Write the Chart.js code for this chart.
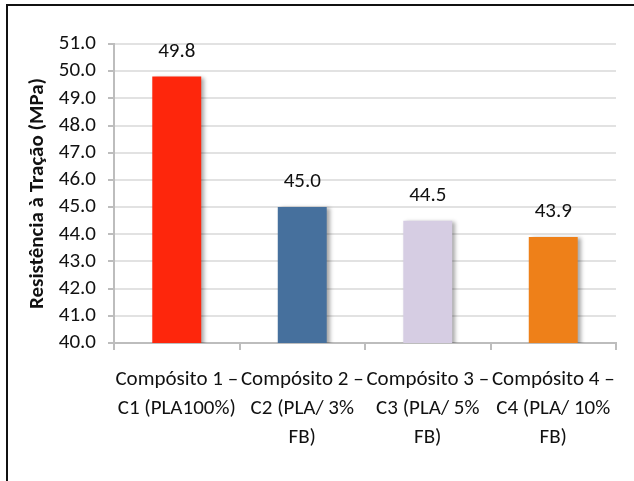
<!DOCTYPE html>
<html>
<head>
<meta charset="utf-8">
<script src="https://cdn.jsdelivr.net/npm/chart.js@4/dist/chart.umd.min.js"></script>
<style>
  html, body { margin: 0; padding: 0; background: #fff; }
  #frame { position: absolute; left: 6px; top: 4px; width: 640px; height: 490px;
           border-left: 2px solid #111; border-top: 2px solid #111; }
  #wrap { position: absolute; left: 0; top: 0; width: 634px; height: 481px; }
</style>
</head>
<body>
<div id="frame"></div>
<div id="wrap"><canvas id="c" width="634" height="481"></canvas></div>
<script>
const categories = [
  ["Compósito 1 –", "C1 (PLA100%)"],
  ["Compósito 2 –", "C2 (PLA/ 3%", "FB)"],
  ["Compósito 3 –", "C3 (PLA/ 5%", "FB)"],
  ["Compósito 4 –", "C4 (PLA/ 10%", "FB)"]
];
const tensileStrength = [49.8, 45.0, 44.5, 43.9];
const barColors = ["#FE260C", "#46709D", "#D6CDE3", "#EE8019"];
const yTitle = "Resistência à Tração (MPa)";

const FONT = 'Carlito, Lato, sans-serif';

// soft drop shadow behind the bars
const barShadow = {
  id: 'barShadow',
  beforeDatasetsDraw(chart) {
    const ctx = chart.ctx;
    ctx.save();
    ctx.shadowColor = 'rgba(0,0,0,0.35)';
    ctx.shadowBlur = 4;
    ctx.shadowOffsetX = 3;
    ctx.shadowOffsetY = 1;
  },
  afterDatasetsDraw(chart) {
    chart.ctx.restore();
  }
};

// value printed above each bar
const valueLabels = {
  id: 'valueLabels',
  afterDatasetsDraw(chart) {
    const ctx = chart.ctx;
    ctx.save();
    ctx.shadowColor = 'transparent';
    ctx.font = '21px ' + FONT;
    ctx.fillStyle = '#111';
    ctx.textAlign = 'center';
    ctx.textBaseline = 'middle';
    const meta = chart.getDatasetMeta(0);
    meta.data.forEach((bar, i) => {
      ctx.fillText(tensileStrength[i].toFixed(1), bar.x, bar.y - 25);
    });
    ctx.restore();
  }
};

new Chart(document.getElementById('c'), {
  type: 'bar',
  data: {
    labels: categories,
    datasets: [{
      data: tensileStrength,
      backgroundColor: barColors,
      borderWidth: 0,
      categoryPercentage: 1.0,
      barPercentage: 0.39
    }]
  },
  options: {
    responsive: false,
    animation: false,
    layout: { padding: { left: 22, right: 18, top: 44, bottom: 0 } },
    plugins: { legend: { display: false }, tooltip: { enabled: false } },
    scales: {
      y: {
        min: 40, max: 51,
        afterFit(scale) { scale.width = 114 - 22; },
        ticks: {
          stepSize: 1,
          autoSkip: false,
          color: '#111',
          font: { family: FONT, size: 21, lineHeight: 1.0 },
          padding: 12,
          callback: v => Number(v).toFixed(1)
        },
        grid: { color: '#e2e2e2', lineWidth: 2, tickLength: 6, tickColor: '#bdbdbd' },
        border: { color: '#bdbdbd', width: 2 },
        title: {
          display: true,
          text: yTitle,
          color: '#111',
          font: { family: FONT, size: 21, weight: 'bold', lineHeight: 1.0 },
          padding: { top: 5, bottom: 0 }
        }
      },
      x: {
        afterFit(scale) { scale.height = 481 - 343; },
        ticks: {
          color: '#111',
          font: { family: FONT, size: 21, lineHeight: 1.38 },
          maxRotation: 0,
          autoSkip: false,
          padding: 15
        },
        grid: { drawOnChartArea: false, tickLength: 7, color: '#bdbdbd', lineWidth: 2 },
        border: { color: '#bdbdbd', width: 2 }
      }
    }
  },
  plugins: [barShadow, valueLabels]
});
</script>
</body>
</html>
